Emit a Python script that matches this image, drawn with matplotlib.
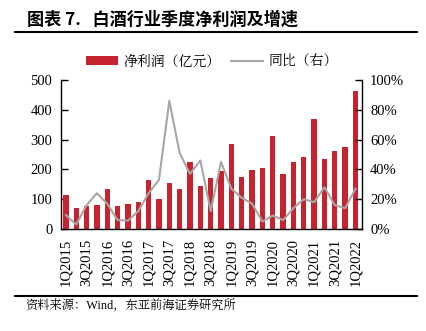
import matplotlib
matplotlib.use("Agg")
import matplotlib.pyplot as plt
from matplotlib.patches import Patch
from matplotlib.lines import Line2D
from matplotlib.ticker import FuncFormatter

quarters = ["1Q2015", "2Q2015", "3Q2015", "4Q2015", "1Q2016", "2Q2016", "3Q2016", "4Q2016",
            "1Q2017", "2Q2017", "3Q2017", "4Q2017", "1Q2018", "2Q2018", "3Q2018", "4Q2018",
            "1Q2019", "2Q2019", "3Q2019", "4Q2019", "1Q2020", "2Q2020", "3Q2020", "4Q2020",
            "1Q2021", "2Q2021", "3Q2021", "4Q2021", "1Q2022"]
profit = [115, 72, 78, 82, 135, 76, 84, 91, 166, 100, 153, 135, 225, 144, 171, 195,
          286, 173, 199, 204, 312, 185, 225, 243, 368, 234, 261, 276, 464]
yoy = [9.4, 3, 16, 24, 17, 6, 5.6, 12, 24, 33, 86, 51, 37, 46, 12, 45,
       27, 21, 17, 5, 9, 6, 14, 20, 18, 28, 16, 14, 27]

SANS_CJK = ["Noto Sans CJK SC", "DejaVu Sans"]
SERIF_CJK = ["Liberation Serif", "Noto Serif CJK SC", "DejaVu Serif"]
plt.rcParams["font.family"] = ["Liberation Serif"]
RED = "#C5232E"
GREY = "#A6A6A6"

W, H = 427, 331
fig = plt.figure(figsize=(W / 100, H / 100), dpi=100)

left, right, top, bottom = 60.7, 361.7, 80, 229
ax = fig.add_axes([left / W, (H - bottom) / H, (right - left) / W, (bottom - top) / H])
x = list(range(len(quarters)))
ax.bar(x, profit, width=0.52, color=RED, zorder=2)
ax.set_ylim(0, 500)
ax.set_yticks(range(0, 501, 100))
ax.set_xlim(-0.5, 28.6)
ax.set_xticks(x[::2])
ax.set_xticklabels(quarters[::2], rotation=90, fontsize=10.5)
ax.tick_params(axis="x", length=0, pad=7)
ax.tick_params(axis="y", direction="in", length=5, width=1, pad=6, labelsize=10.5)
ax.spines["top"].set_visible(False)
ax.spines["right"].set_visible(False)
for s in ("left", "bottom"):
    ax.spines[s].set_linewidth(1)

ax2 = ax.twinx()
ax2.plot(x, [v / 100 for v in yoy], color=GREY, lw=1.5, zorder=3)
ax2.set_ylim(0, 1)
ax2.set_yticks([0, 0.2, 0.4, 0.6, 0.8, 1.0])
ax2.yaxis.set_major_formatter(FuncFormatter(lambda v, p: f"{v*100:.0f}%"))
ax2.tick_params(axis="y", direction="in", length=5, width=1, pad=6, labelsize=10.5)
ax2.spines["top"].set_visible(False)
ax2.spines["left"].set_visible(False)
ax2.spines["bottom"].set_visible(False)
ax2.spines["right"].set_linewidth(1)

handles = [Patch(facecolor=RED, edgecolor="none"), Line2D([0], [0], color=GREY, lw=1.5)]
fig.legend(handles, ["净利润（亿元）", "同比（右）"], loc="center",
           bbox_to_anchor=(212 / W, (H - 62) / H), ncol=2, frameon=False,
           prop={"family": SERIF_CJK, "size": 10}, handlelength=2.3, handleheight=0.6,
           columnspacing=0.8, handletextpad=0.4)

fig.text(27 / W, (H - 20) / H, "图表 7.   白酒行业季度净利润及增速", fontfamily=SANS_CJK,
         fontsize=12.3, fontweight="bold", va="center", ha="left")
fig.add_artist(Line2D([15 / W, 417 / W], [(H - 32) / H, (H - 32) / H], color="black", lw=1.5))
fig.add_artist(Line2D([15 / W, 417 / W], [(H - 296) / H, (H - 296) / H], color="black", lw=1.5))
fig.text(25 / W, (H - 306) / H, "资料来源：Wind，东亚前海证券研究所", fontfamily=SERIF_CJK,
         fontsize=8.8, va="center", ha="left")

fig.savefig("out.png", dpi=100)
